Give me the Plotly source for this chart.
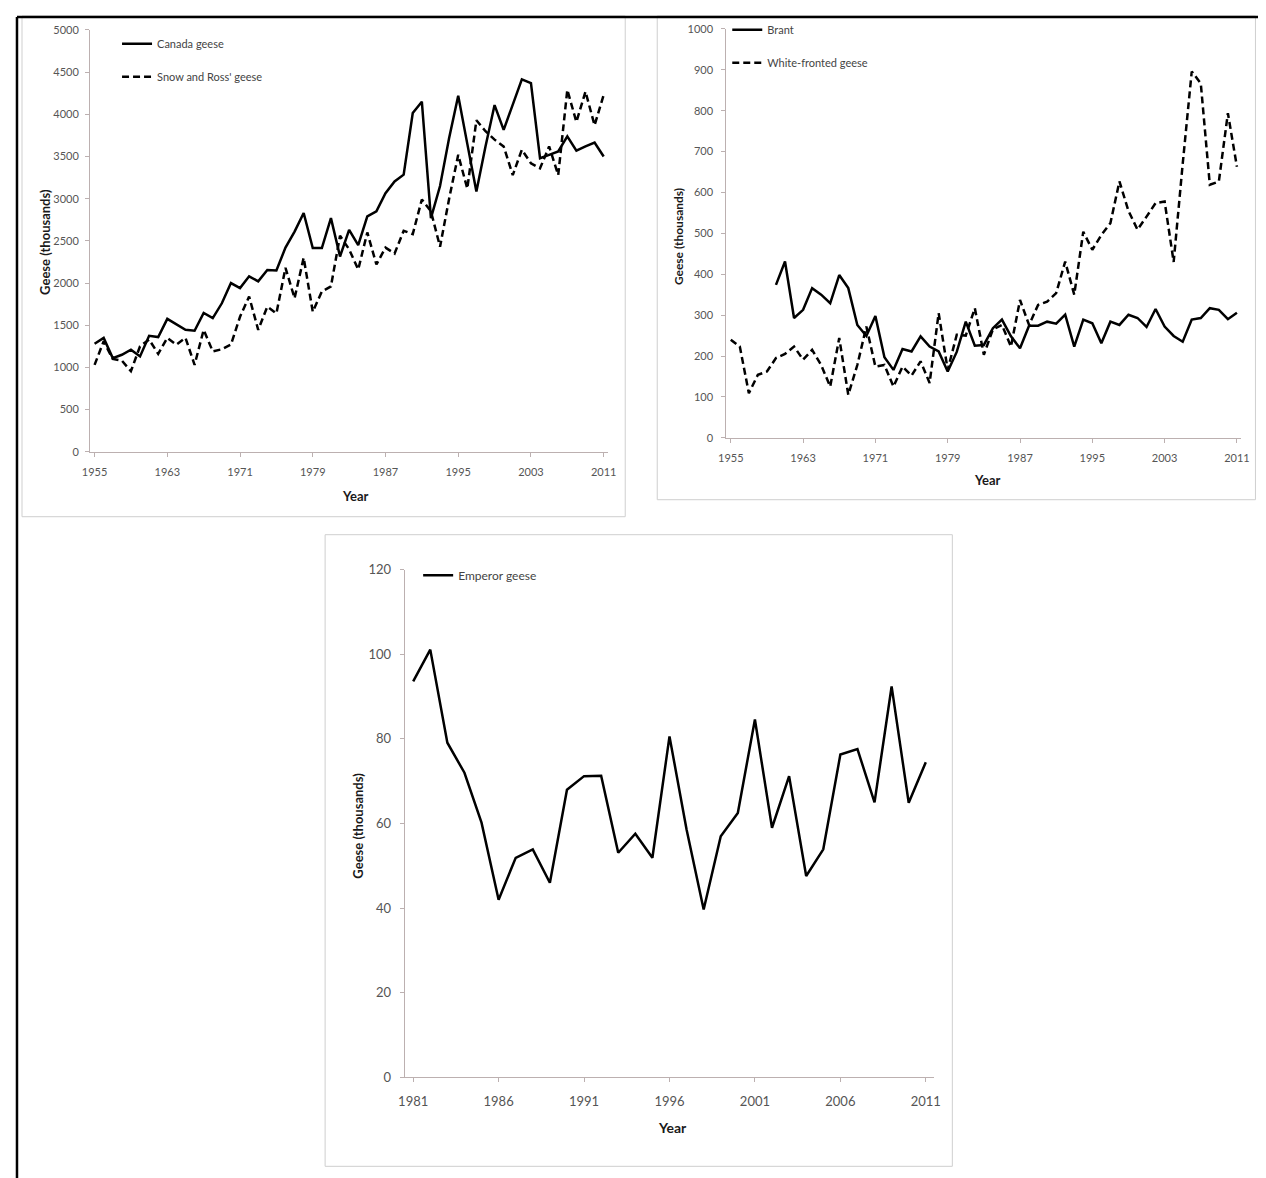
import plotly.graph_objects as go

W, H = 1266, 1178
# the photographed page shows the figure shifted by about 16px and scaled by
# about 0.987, so reference pixel positions are converted before use
SHIFT, SCALE = 16, 0.987

# ---- data (thousands of geese) ----
years_top = list(range(1955, 2012))
years_emperor = list(range(1981, 2012))

canada = [1280, 1350, 1110, 1150, 1210, 1130, 1375, 1360, 1575, 1505,
          1445, 1435, 1645, 1585, 1760, 2000, 1940, 2080, 2020, 2155,
          2150, 2420, 2610, 2830, 2415, 2415, 2770, 2315, 2630, 2450,
          2790, 2850, 3065, 3205, 3285, 4015, 4150, 2770, 3150, 3720,
          4220, 3650, 3085, 3620, 4110, 3815, 4120, 4415, 4370, 3480,
          3520, 3560, 3740, 3570, 3620, 3665, 3500]

snow_ross = [1030, 1310, 1100, 1080, 955, 1250, 1330, 1160, 1350, 1270,
             1350, 1030, 1445, 1190, 1215, 1270, 1600, 1840, 1445, 1720,
             1640, 2180, 1820, 2300, 1660, 1900, 1960, 2560, 2400, 2160,
             2600, 2220, 2420, 2350, 2620, 2580, 2990, 2850, 2430, 3000,
             3520, 3120, 3930, 3800, 3700, 3620, 3280, 3580, 3420, 3360,
             3620, 3280, 4290, 3910, 4270, 3870, 4230]

brant = [None, None, None, None, None,
         374, 431, 293, 313, 366, 350, 329, 398, 366, 276,
         249, 298, 197, 166, 217, 211, 248, 223, 211, 162,
         210, 284, 225, 227, 268, 289, 248, 219, 274, 274,
         284, 279, 301, 223, 289, 280, 231, 284, 276, 301,
         293, 271, 315, 272, 249, 235, 289, 293, 317, 313,
         290, 306]

white_fronted = [240, 223, 109, 154, 162, 195, 205, 223, 191, 215,
                 178, 125, 244, 105, 178, 272, 174, 178, 125, 174,
                 152, 187, 134, 305, 166, 252, 250, 317, 203, 265,
                 276, 223, 337, 276, 325, 333, 354, 431, 350, 504,
                 460, 496, 525, 627, 555, 509, 541, 574, 578, 430,
                 670, 896, 867, 619, 627, 794, 663]

emperor = [93.6, 101.1, 79.1, 72.0, 60.2, 42.0, 51.9, 53.9, 46.0, 68.0,
           71.2, 71.3, 53.1, 57.6, 51.9, 80.6, 58.6, 39.7, 57.0, 62.5,
           84.6, 59.0, 71.2, 47.6, 53.9, 76.3, 77.6, 65.0, 92.4, 64.9,
           74.5]

ticks_top = [1955, 1963, 1971, 1979, 1987, 1995, 2003, 2011]
ticks_emperor = [1981, 1986, 1991, 1996, 2001, 2006, 2011]

FONT = "Lato, 'Open Sans', sans-serif"
AXIS = "#bcb0b0"
TICKTXT = "#555555"
DASH = "7px,4px"


def fx(p):
    return max(0.0, (p - SHIFT) / SCALE / W)


def fy(p):
    return min(1.0, 1 - (p - SHIFT) / SCALE / H)


fig = go.Figure()

fig.add_trace(go.Scatter(x=years_top, y=canada, name="Canada geese", mode="lines",
                         line=dict(color="black", width=2.5),
                         xaxis="x", yaxis="y", legend="legend", legendgroup="a"))
fig.add_trace(go.Scatter(x=years_top, y=snow_ross, name="Snow and Ross' geese", mode="lines",
                         line=dict(color="black", width=2.5, dash=DASH),
                         xaxis="x", yaxis="y", legend="legend", legendgroup="b"))
fig.add_trace(go.Scatter(x=years_top, y=brant, name="Brant", mode="lines",
                         line=dict(color="black", width=2.5),
                         xaxis="x2", yaxis="y2", legend="legend2", legendgroup="c"))
fig.add_trace(go.Scatter(x=years_top, y=white_fronted, name="White-fronted geese", mode="lines",
                         line=dict(color="black", width=2.5, dash=DASH),
                         xaxis="x2", yaxis="y2", legend="legend2", legendgroup="d"))
fig.add_trace(go.Scatter(x=years_emperor, y=emperor, name="Emperor geese", mode="lines",
                         line=dict(color="black", width=2.5),
                         xaxis="x3", yaxis="y3", legend="legend3", legendgroup="e"))


def axis(domain, rng, anchor, size, standoff, **kw):
    return dict(domain=domain, range=rng, anchor=anchor, showgrid=False, zeroline=False,
                showline=True, linecolor=AXIS, linewidth=1, ticks="outside",
                tickcolor=AXIS, ticklen=4, ticklabelstandoff=standoff,
                tickfont=dict(family=FONT, size=size, color=TICKTXT), **kw)


fig.update_layout(
    xaxis=axis([fx(90), fx(608)], [1954.5, 2011.5], "y", 11, 6,
               tickmode="array", tickvals=ticks_top),
    yaxis=axis([fy(452), fy(30)], [0, 5000], "x", 11, 4, dtick=500),
    xaxis2=axis([fx(726), fx(1241)], [1954.5, 2011.5], "y2", 11, 6,
                tickmode="array", tickvals=ticks_top),
    yaxis2=axis([fy(438), fy(29)], [0, 1000], "x2", 11, 6, dtick=100),
    xaxis3=axis([fx(404.5), fx(934)], [1980.5, 2011.5], "y3", 13, 8,
                tickmode="array", tickvals=ticks_emperor),
    yaxis3=axis([fy(1078), fy(570)], [0, 120], "x3", 13, 6, dtick=20),
)

# legend boxes: first item sits ~14px under the box top, sample line ~5px right of it
legend_common = dict(xanchor="left", yanchor="top", bgcolor="rgba(0,0,0,0)",
                     itemwidth=30, traceorder="grouped", itemclick=False)
fig.update_layout(
    legend=dict(x=fx(117), y=fy(43) + 14 / H, tracegroupgap=14,
                font=dict(family=FONT, size=11, color="#444444"), **legend_common),
    legend2=dict(x=fx(727), y=fy(29) + 14 / H, tracegroupgap=14,
                 font=dict(family=FONT, size=11, color="#444444"), **legend_common),
    legend3=dict(x=fx(418), y=fy(576) + 15 / H, tracegroupgap=14,
                 font=dict(family=FONT, size=12, color="#444444"), **legend_common),
)

# panel frames and the outer black border
shapes = []
for x0, y0, x1, y1 in [(22, 5, 625, 517), (657, 5, 1255, 500), (325, 535, 952, 1167)]:
    shapes.append(dict(type="rect", xref="paper", yref="paper", layer="below",
                       x0=fx(x0), y0=fy(y0), x1=fx(x1), y1=fy(y1),
                       line=dict(color="#cfcfcf", width=1), fillcolor="white"))
shapes.append(dict(type="line", xref="paper", yref="paper", x0=1 / W, y0=1 - 1 / H,
                   x1=fx(1258), y1=1 - 1 / H, line=dict(color="black", width=2.5)))
shapes.append(dict(type="line", xref="paper", yref="paper", x0=1 / W, y0=1 - 1 / H,
                   x1=1 / W, y1=0, line=dict(color="black", width=2.5)))

annotations = []
for txt, x, y, ang, sz in [("Geese (thousands)", 45, 242, -90, 13),
                           ("Year", 355, 496, 0, 13),
                           ("Geese (thousands)", 679, 237, -90, 12),
                           ("Year", 987, 480, 0, 13),
                           ("Geese (thousands)", 357, 826, -90, 13),
                           ("Year", 672, 1128, 0, 14)]:
    annotations.append(dict(text="<b>%s</b>" % txt, xref="paper", yref="paper",
                            x=fx(x), y=fy(y), xanchor="center", yanchor="middle",
                            textangle=ang, showarrow=False,
                            font=dict(family=FONT, size=sz, color="#1a1a1a")))

fig.update_layout(
    width=W, height=H,
    margin=dict(l=0, r=0, t=0, b=0),
    paper_bgcolor="white",
    plot_bgcolor="white",
    shapes=shapes,
    annotations=annotations,
    font=dict(family=FONT),
)

fig.write_html("out.html")
